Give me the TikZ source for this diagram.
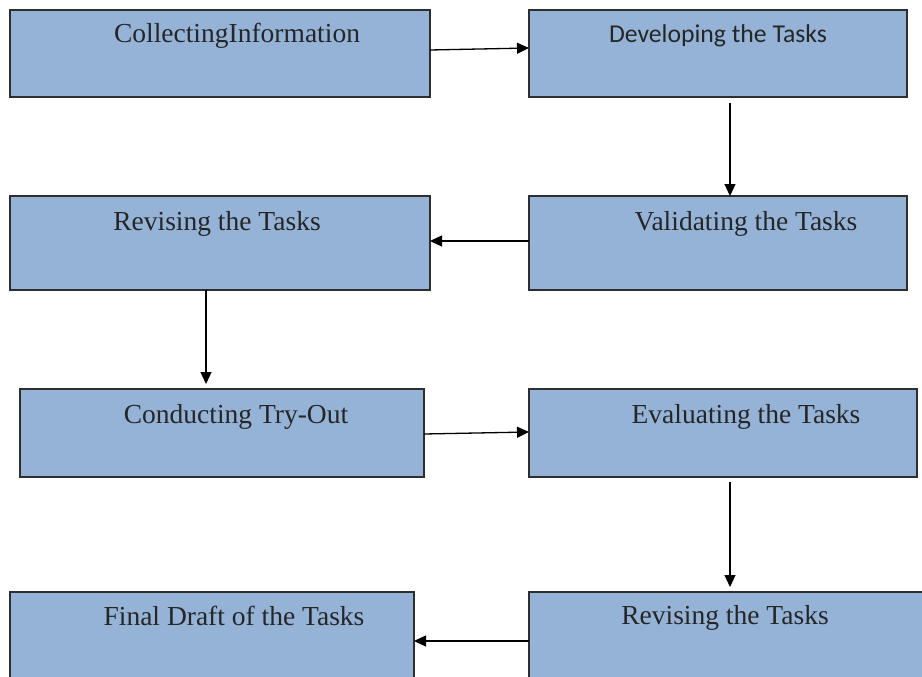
\documentclass[tikz,border=0pt]{standalone}
\usepackage{fontspec}
\setmainfont{Liberation Serif}
\newfontfamily\carlito{Carlito}
\usetikzlibrary{arrows.meta}
\definecolor{boxfill}{HTML}{95B3D7}
\definecolor{boxline}{HTML}{2E2E2E}
\begin{document}
\begin{tikzpicture}[x=1pt,y=-1pt,
  box/.style={draw=boxline, fill=boxfill, line width=1.3pt, inner sep=0pt, outer sep=0pt, anchor=north west},
  lbl/.style={anchor=base, font=\fontsize{27.5}{31}\selectfont, inner sep=0pt, text=black!85},
  arr/.style={line width=1.3pt, draw=black, -{Triangle[length=12pt,width=11pt]}}]
\clip (0,0) rectangle (922,677);
\fill[white] (0,0) rectangle (922,677);
% boxes
\node[box, minimum width=420pt, minimum height=87pt] (b1) at (10,10) {};
\node[box, minimum width=378pt, minimum height=87pt] (b2) at (529,10) {};
\node[box, minimum width=420pt, minimum height=94pt] (b3) at (10,196) {};
\node[box, minimum width=378pt, minimum height=94pt] (b4) at (529,196) {};
\node[box, minimum width=404pt, minimum height=88pt] (b5) at (20,389) {};
\node[box, minimum width=388pt, minimum height=88pt] (b6) at (529,389) {};
\node[box, minimum width=404pt, minimum height=110pt] (b7) at (10,592) {};
\node[box, minimum width=420pt, minimum height=110pt] (b8) at (529,592) {};
% labels
\node[lbl] (t1) at (237,43) {CollectingInformation};
\node[lbl, font=\carlito\fontsize{25.7}{29}\selectfont] (t2) at (718,43) {Developing the Tasks};
\node[lbl] (t3) at (217,230) {Revising the Tasks};
\node[lbl] (t4) at (746,230) {Validating the Tasks};
\node[lbl] (t5) at (236,423) {Conducting Try-Out};
\node[lbl] (t6) at (746,423) {Evaluating the Tasks};
\node[lbl] (t7) at (234,625) {Final Draft of the Tasks};
\node[lbl] (t8) at (725,624) {Revising the Tasks};
% connectors
\draw[arr] ([yshift=3.5pt]b1.east) -- ([yshift=5.5pt]b2.west);
\draw[arr] ([xshift=12pt,yshift=-6pt]b2.south) -- ([xshift=12pt]b4.north);
\draw[arr] ([yshift=2pt]b4.west) -- ([yshift=2pt]b3.east);
\draw[arr] ([xshift=-14pt]b3.south) -- ([xshift=-16pt,yshift=5pt]b5.north);
\draw[arr] ([yshift=-1pt]b5.east) -- ([yshift=1pt]b6.west);
\draw[arr] ([xshift=7pt,yshift=-5pt]b6.south) -- ([xshift=7pt,yshift=5pt]b6.south |- b8.north);
\draw[arr] (b8.north west |- 0,641) -- (b7.north east |- 0,641);
\end{tikzpicture}
\end{document}
